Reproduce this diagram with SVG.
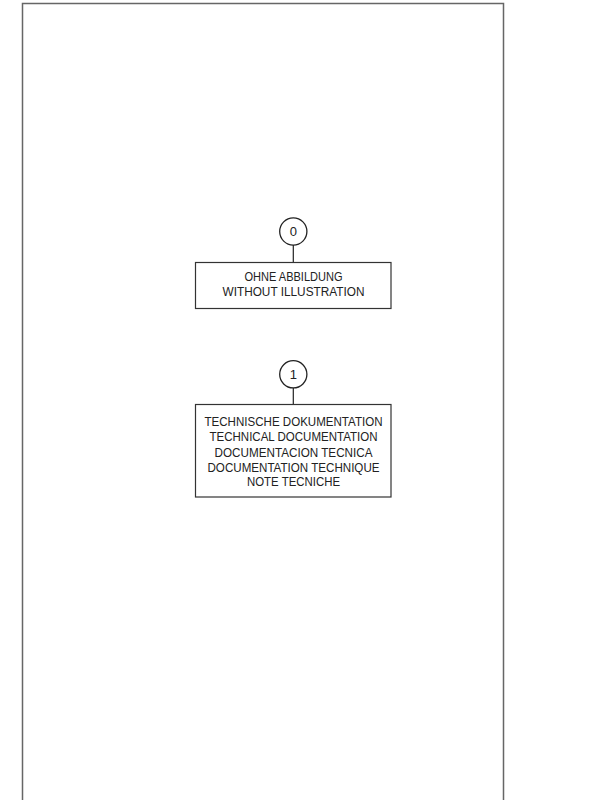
<svg xmlns="http://www.w3.org/2000/svg" width="596" height="800" viewBox="0 0 596 800">
<style>
.frame{fill:none;stroke:#666;stroke-width:1.5}
.box{fill:#fff;stroke:#333;stroke-width:1.2}
.num{fill:#fff;stroke:#222;stroke-width:1.3}
.lead{stroke:#222;stroke-width:1.2;fill:none}
text{font-family:"Liberation Sans",Arial,sans-serif;font-size:12px;fill:#222;text-anchor:middle}
.n{font-size:13px}
</style>
<rect width="596" height="800" fill="#fff"/>
<path class="frame" d="M22.5,810 V3.5 H503.5 V810"/>
<g id="connectors">
<line class="lead" x1="293.3" y1="245" x2="293.3" y2="262"/>
<line class="lead" x1="293.3" y1="388" x2="293.3" y2="404"/>
</g>
<g id="node-0">
<circle class="num" cx="293.3" cy="231.5" r="13.6"/>
<text class="n" x="293.3" y="236.2">0</text>
<rect class="box" x="195.5" y="262.5" width="195.5" height="46"/>
<text x="293.5" y="280.7" textLength="98" lengthAdjust="spacingAndGlyphs">OHNE ABBILDUNG</text>
<text x="293.5" y="296.2" textLength="142" lengthAdjust="spacingAndGlyphs">WITHOUT ILLUSTRATION</text>
</g>
<g id="node-1">
<circle class="num" cx="293.3" cy="374.3" r="13.6"/>
<text class="n" x="293.3" y="379">1</text>
<rect class="box" x="195.5" y="404.5" width="195.5" height="92.5"/>
<text x="293.5" y="425.6" textLength="178" lengthAdjust="spacingAndGlyphs">TECHNISCHE DOKUMENTATION</text>
<text x="293.5" y="441" textLength="168" lengthAdjust="spacingAndGlyphs">TECHNICAL DOCUMENTATION</text>
<text x="293.5" y="456.5" textLength="158" lengthAdjust="spacingAndGlyphs">DOCUMENTACION TECNICA</text>
<text x="293.5" y="471.7" textLength="172" lengthAdjust="spacingAndGlyphs">DOCUMENTATION TECHNIQUE</text>
<text x="293.5" y="485.8" textLength="93" lengthAdjust="spacingAndGlyphs">NOTE TECNICHE</text>
</g>
</svg>
